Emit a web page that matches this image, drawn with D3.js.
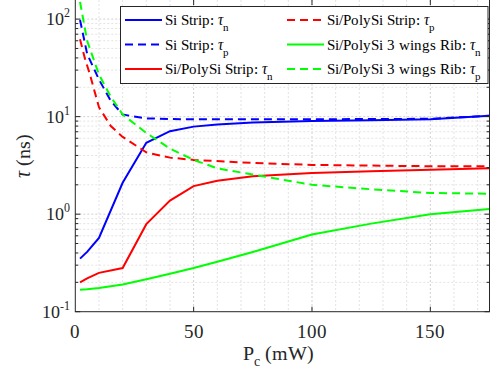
<!DOCTYPE html>
<html>
<head>
<meta charset="utf-8">
<script src="https://cdn.jsdelivr.net/npm/d3@7"></script>
<style>
  @font-face { font-family: "PlotSerif"; src: local("Liberation Serif"), local("LiberationSerif"), local("Liberation Serif Regular"); font-style: normal; }
  @font-face { font-family: "PlotSerif"; src: local("Liberation Serif Italic"), local("LiberationSerif-Italic"); font-style: italic; }
</style>
</head>
<body style="margin:0">
<svg id="chart" width="497" height="377"></svg>
<script>
// values: [Pc (mW), tau (ns)]
const siStripN = [[2,0.35],[5,0.41],[10,0.57],[20,2.1],[30,5.4],[40,7.1],[50,7.9],[60,8.3],[75,8.7],[100,9.0],[125,9.2],[150,9.4],[175,10.2]];
const siStripP = [[2,98],[5,44],[10,24],[15,14.5],[20,10.5],[30,9.6],[40,9.45],[50,9.4],[75,9.4],[100,9.4],[125,9.45],[150,9.5],[175,10.2]];
const polyStripN = [[2,0.2],[5,0.22],[10,0.25],[20,0.28],[30,0.79],[40,1.38],[50,1.94],[60,2.2],[75,2.45],[100,2.65],[125,2.75],[150,2.85],[175,2.95]];
const polyStripP = [[2,62],[4,40],[6,28],[10,12.5],[15,8],[20,6.2],[30,4.3],[40,3.8],[50,3.6],[75,3.35],[100,3.2],[125,3.15],[150,3.1],[175,3.1]];
const ribN = [[2,0.168],[5,0.17],[10,0.175],[20,0.19],[30,0.215],[40,0.245],[50,0.28],[60,0.325],[75,0.41],[100,0.62],[125,0.8],[150,1.0],[175,1.13]];
const ribP = [[2,150],[5,60],[10,27],[15,16],[20,10.5],[30,6.8],[40,4.7],[50,3.6],[60,2.95],[75,2.55],[100,2.0],[125,1.8],[150,1.65],[175,1.62]];

const series = [
    {name: "Si Strip: ", sub: "n", data: siStripN, color: "#0000ff", dash: null},
    {name: "Si Strip: ", sub: "p", data: siStripP, color: "#0000ff", dash: "8,5"},
    {name: "Si/PolySi Strip: ", sub: "n", data: polyStripN, color: "#ff0000", dash: null},
    {name: "Si/PolySi Strip: ", sub: "p", data: polyStripP, color: "#ff0000", dash: "8,5"},
    {name: "Si/PolySi 3 wings Rib: ", sub: "n", data: ribN, color: "#00ff00", dash: null},
    {name: "Si/PolySi 3 wings Rib: ", sub: "p", data: ribP, color: "#00ff00", dash: "8,5"}
];

const xTicks = [0, 50, 100, 150];
const yDecades = [-1, 0, 1, 2];
const xDomain = [0, 175];
const yDomain = [0.1, 157];

const margin = {top: 0, right: 7.5, bottom: 65.3, left: 75.3};
const width = 497 - margin.left - margin.right;
const height = 377 - margin.top - margin.bottom;
const axisColor = "#262626";
const serif = "PlotSerif, 'Liberation Serif'";

const svg = d3.select("#chart");
const g = svg.append("g").attr("transform", `translate(${margin.left}, ${margin.top})`);

const x = d3.scaleLinear().domain(xDomain).range([0, width]);
const y = d3.scaleLog().domain(yDomain).range([height, 0]);

// minor values on the log axis
const yMinor = [];
yDecades.forEach(d => {
    for (let k = 1; k <= 9; k++) {
        const v = k * Math.pow(10, d);
        if (v >= yDomain[0] && v <= yDomain[1]) yMinor.push(v);
    }
});
const xMinor = d3.range(10, 175, 10);

// grid
const grid = g.append("g");
grid.selectAll("line.xg")
    .data(xMinor)
    .join("line")
    .attr("class", "xg")
    .attr("x1", d => x(d)).attr("x2", d => x(d))
    .attr("y1", 0).attr("y2", height)
    .attr("stroke", d => d % 50 === 0 ? "#d0d0d0" : "#e3e3e3")
    .attr("stroke-width", 1)
    .attr("stroke-dasharray", "2,2");
grid.selectAll("line.yg")
    .data(yMinor.filter(v => v > yDomain[0]))
    .join("line")
    .attr("class", "yg")
    .attr("x1", 0).attr("x2", width)
    .attr("y1", d => y(d)).attr("y2", d => y(d))
    .attr("stroke", d => Number.isInteger(Math.log10(d)) ? "#d0d0d0" : "#e3e3e3")
    .attr("stroke-width", 1)
    .attr("stroke-dasharray", "2,2");

// lines
g.append("clipPath").attr("id", "clip")
    .append("rect").attr("width", width).attr("height", height);

const line = d3.line().x(d => x(d[0])).y(d => y(d[1]));

g.append("g").attr("clip-path", "url(#clip)")
    .selectAll("path")
    .data(series)
    .join("path")
    .attr("d", d => line(d.data))
    .attr("fill", "none")
    .attr("stroke", d => d.color)
    .attr("stroke-width", 2)
    .attr("stroke-dasharray", d => d.dash);

// axes box and ticks
const axes = g.append("g").attr("stroke", axisColor).attr("stroke-width", 1);
axes.append("rect")
    .attr("x", 0).attr("y", -1).attr("width", width).attr("height", height + 1)
    .attr("fill", "none");

xTicks.slice(1).forEach(v => {
    axes.append("line").attr("x1", x(v)).attr("x2", x(v)).attr("y1", height).attr("y2", height - 5);
    axes.append("line").attr("x1", x(v)).attr("x2", x(v)).attr("y1", 0).attr("y2", 5);
});
yMinor.forEach(v => {
    const len = Number.isInteger(Math.log10(v)) ? 5 : 3;
    axes.append("line").attr("x1", 0).attr("x2", len).attr("y1", y(v)).attr("y2", y(v));
    axes.append("line").attr("x1", width).attr("x2", width - len).attr("y1", y(v)).attr("y2", y(v));
});

// tick labels
g.append("g").selectAll("text")
    .data(xTicks)
    .join("text")
    .attr("x", d => x(d))
    .attr("y", height + 26)
    .attr("text-anchor", "middle")
    .style("font-family", serif)
    .attr("font-size", 19)
    .attr("fill", axisColor)
    .text(d => d);

const yl = g.append("g").selectAll("text")
    .data(yDecades)
    .join("text")
    .attr("x", -5)
    .attr("y", d => y(Math.pow(10, d)) + 6)
    .attr("text-anchor", "end")
    .style("font-family", serif)
    .attr("font-size", 18)
    .attr("fill", axisColor);
yl.append("tspan").text("10");
yl.append("tspan").attr("dy", -8).attr("font-size", 12).text(d => d < 0 ? "-1" : d);

// axis labels
const xl = g.append("text")
    .attr("x", width / 2 - 4)
    .attr("y", height + 48)
    .attr("text-anchor", "middle")
    .style("font-family", serif)
    .attr("font-size", 20)
    .attr("fill", axisColor);
xl.append("tspan").text("P");
xl.append("tspan").attr("dy", 6).attr("font-size", 14).text("c");
xl.append("tspan").attr("dy", -6).text(" (mW)");

const ylab = g.append("text")
    .attr("transform", `translate(-45, ${height / 2}) rotate(-90)`)
    .attr("text-anchor", "middle")
    .style("font-family", serif)
    .attr("font-size", 20)
    .attr("fill", axisColor);
ylab.append("tspan").style("font-style", "italic").text("τ");
ylab.append("tspan").text(" (ns)");

// legend, two columns
const legend = svg.append("g");
legend.append("rect")
    .attr("x", 120.5).attr("y", 6.5).attr("width", 367.5).attr("height", 77)
    .attr("fill", "#fff").attr("stroke", axisColor).attr("stroke-width", 1);

const cols = [125, 287];
const rowY = [20, 44.5, 69];
series.forEach((s, i) => {
    const col = i < 3 ? 0 : 1;
    const row = i % 3;
    const lx = cols[col];
    const ly = rowY[row];
    legend.append("line")
        .attr("x1", lx).attr("x2", lx + 37)
        .attr("y1", ly).attr("y2", ly)
        .attr("stroke", s.color).attr("stroke-width", 2)
        .attr("stroke-dasharray", s.dash);
    const t = legend.append("text")
        .attr("x", lx + 40)
        .attr("y", ly + 5)
        .style("font-family", serif)
        .attr("font-size", 15)
        .attr("fill", "#000");
    t.append("tspan").text(s.name);
    t.append("tspan").style("font-style", "italic").text("τ");
    t.append("tspan").attr("dy", 6).attr("font-size", 11).text(s.sub);
});
</script>
</body>
</html>
